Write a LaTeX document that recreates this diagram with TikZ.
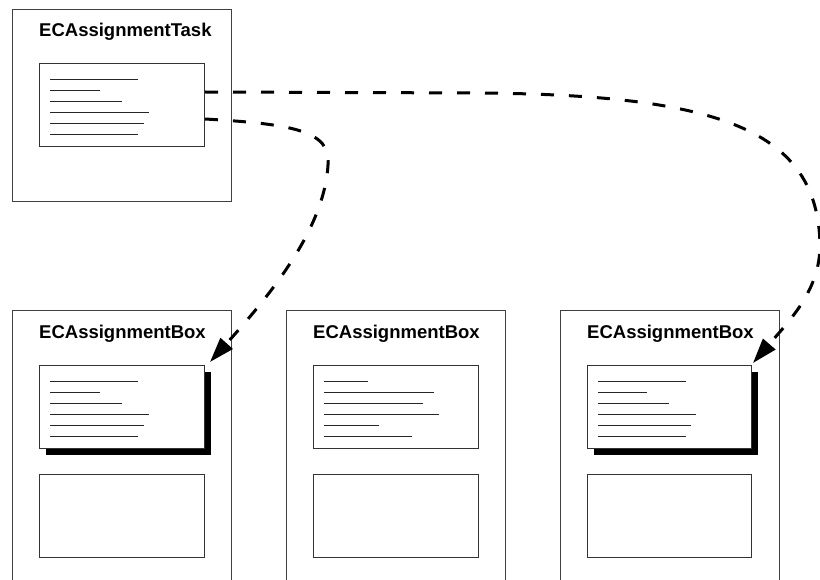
\documentclass[tikz,border=0pt]{standalone}
\usepackage{fontspec}
\setmainfont{Liberation Sans}
\usetikzlibrary{arrows.meta,shadows,calc}

\begin{document}
\begin{tikzpicture}[x=1pt,y=-1pt,
  frame/.style={draw=black!75, line width=1pt, anchor=north west,
    minimum width=219pt, inner sep=0pt},
  card/.style={draw=black!80, line width=1pt, fill=white, anchor=north west,
    minimum width=165pt, minimum height=83pt, inner sep=0pt},
  shadowcard/.style={card, drop shadow={shadow xshift=6pt, shadow yshift=-6pt,
    fill=black, opacity=1}},
  title/.style={anchor=base west, inner sep=0pt,
    font=\bfseries\fontsize{18.5}{22}\selectfont},
  textline/.style={line width=1pt, black!85},
  link/.style={line width=3pt, dash pattern=on 13pt off 15pt,
    -{Triangle[length=25pt,width=16pt]}}
]
\useasboundingbox (0,0) rectangle (820,580);
\clip (0,0) rectangle (820,580);

% task frame
\node[frame, minimum height=192pt] (task) at (12,9) {};
\node[title] (tasktitle) at (39,37) {ECAssignmentTask};
\node[card] (taskcard) at (39,63) {};
\foreach \len [count=\i] in {88,50,72,99,94,88}
  \draw[textline] ($(taskcard.north west)+(11,6+11*\i)$) -- ++(\len,0);

% assignment boxes
\node[frame, minimum height=290pt] (box1) at (12,310) {};
\node[frame, minimum height=290pt] (box2) at (286,310) {};
\node[frame, minimum height=290pt] (box3) at (560,310) {};
\node[title] (title1) at (39,338) {ECAssignmentBox};
\node[title] (title2) at (313,338) {ECAssignmentBox};
\node[title] (title3) at (587,338) {ECAssignmentBox};

\node[shadowcard] (card1) at (39,365) {};
\node[card] (card2) at (313,365) {};
\node[shadowcard, minimum width=164pt] (card3) at (587,365) {};

\foreach \len [count=\i] in {88,50,72,99,94,88}
  \draw[textline] ($(card1.north west)+(11,5+11*\i)$) -- ++(\len,0);
\foreach \len [count=\i] in {44,110,99,115,55,88}
  \draw[textline] ($(card2.north west)+(11,5+11*\i)$) -- ++(\len,0);
\foreach \len [count=\i] in {88,49,71,98,93,88}
  \draw[textline] ($(card3.north west)+(11,5+11*\i)$) -- ++(\len,0);

\node[card] (slot1) at (39,474) {};
\node[card] (slot2) at (313,474) {};
\node[card, minimum width=164pt] (slot3) at (587,474) {};

% references from the task card
\draw[link] ($(taskcard.north east)+(0,56)$)
  .. controls (290,124) and (332,130) .. (328,165)
  .. controls (324,230) and (270,295) .. ($(card1.north east)+(5,-3)$);
\draw[link] ($(taskcard.north east)+(0,29)$) -- (480,93)
  .. controls (720,95) and (818,130) .. (820,245)
  .. controls (820,290) and (790,320) .. ($(card3.north east)+(1,-2)$);
\end{tikzpicture}
\end{document}
